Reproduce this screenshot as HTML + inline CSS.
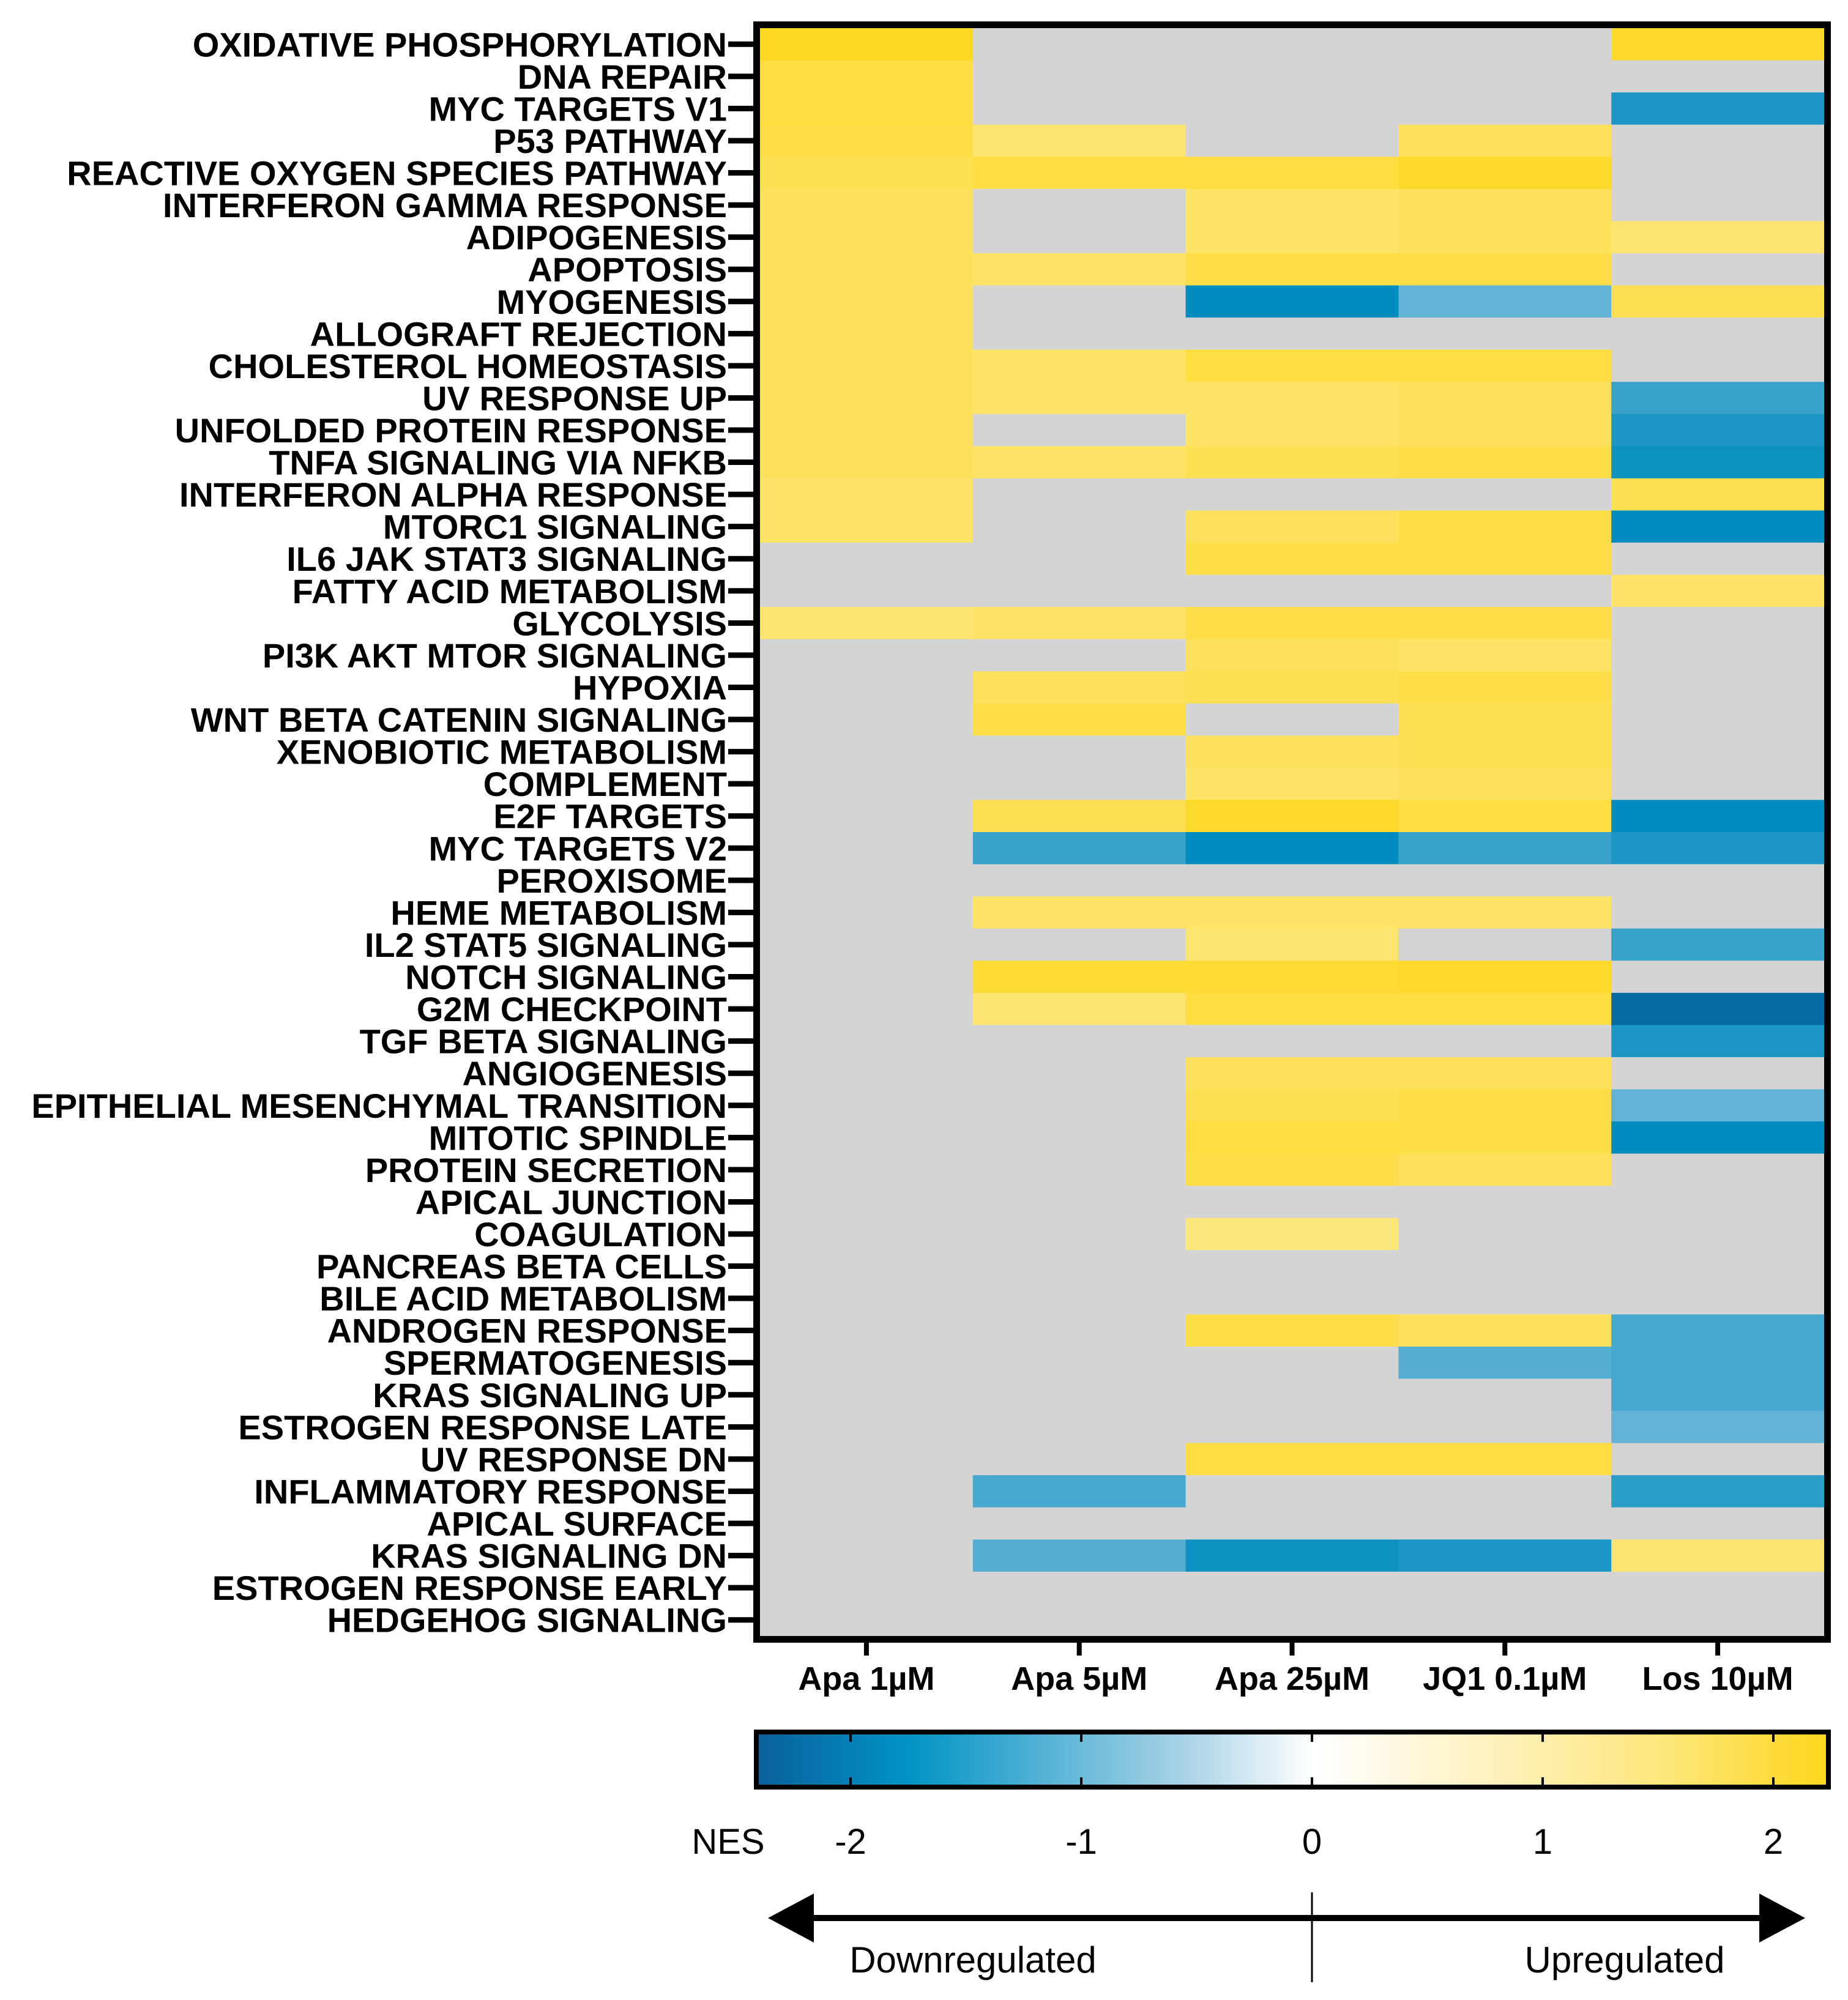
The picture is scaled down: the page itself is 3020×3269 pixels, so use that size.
<!DOCTYPE html>
<html><head><meta charset="utf-8"><style>
html,body{margin:0;padding:0;background:#fff;}
svg{display:block;font-family:"Liberation Sans",Arial,sans-serif;}
</style></head><body>
<svg id="chart" width="3020" height="3269" viewBox="0 0 3020 3269">
<defs>
<linearGradient id="cbgrad" x1="0" x2="1" y1="0" y2="0">
<stop offset="0" stop-color="#0a5f9c"/>
<stop offset="0.14" stop-color="#0093c4"/>
<stop offset="0.4" stop-color="#a9d3e6"/>
<stop offset="0.52" stop-color="#ffffff"/>
<stop offset="0.64" stop-color="#fff5d0"/>
<stop offset="0.85" stop-color="#fde67a"/>
<stop offset="1" stop-color="#fdd71c"/>
</linearGradient>
</defs>
<g id="cells"></g>
<g id="ylabels"></g>
<g id="xlabels"></g>
<rect x="1236.5" y="40.5" width="1750" height="2639" fill="none" stroke="#000" stroke-width="11"/>
<g>
<rect x="1236" y="2831" width="1752" height="90" fill="url(#cbgrad)" stroke="#000" stroke-width="8"/>
<g id="cbticks"></g>
<text x="1190" y="3030" font-size="58" text-anchor="middle">NES</text>
</g>
<g>
<line x1="1320" y1="3135" x2="2880" y2="3135" stroke="#000" stroke-width="10"/>
<polygon points="1255,3135 1330,3095 1330,3175" fill="#000"/>
<polygon points="2950,3135 2875,3095 2875,3175" fill="#000"/>
<line x1="2144" y1="3093" x2="2144" y2="3240" stroke="#000" stroke-width="3"/>
<text x="1590" y="3224" font-size="60" text-anchor="middle">Downregulated</text>
<text x="2655" y="3224" font-size="60" text-anchor="middle">Upregulated</text>
</g>
</svg>
<script>
const pathways = ["OXIDATIVE PHOSPHORYLATION","DNA REPAIR","MYC TARGETS V1","P53 PATHWAY","REACTIVE OXYGEN SPECIES PATHWAY","INTERFERON GAMMA RESPONSE","ADIPOGENESIS","APOPTOSIS","MYOGENESIS","ALLOGRAFT REJECTION","CHOLESTEROL HOMEOSTASIS","UV RESPONSE UP","UNFOLDED PROTEIN RESPONSE","TNFA SIGNALING VIA NFKB","INTERFERON ALPHA RESPONSE","MTORC1 SIGNALING","IL6 JAK STAT3 SIGNALING","FATTY ACID METABOLISM","GLYCOLYSIS","PI3K AKT MTOR SIGNALING","HYPOXIA","WNT BETA CATENIN SIGNALING","XENOBIOTIC METABOLISM","COMPLEMENT","E2F TARGETS","MYC TARGETS V2","PEROXISOME","HEME METABOLISM","IL2 STAT5 SIGNALING","NOTCH SIGNALING","G2M CHECKPOINT","TGF BETA SIGNALING","ANGIOGENESIS","EPITHELIAL MESENCHYMAL TRANSITION","MITOTIC SPINDLE","PROTEIN SECRETION","APICAL JUNCTION","COAGULATION","PANCREAS BETA CELLS","BILE ACID METABOLISM","ANDROGEN RESPONSE","SPERMATOGENESIS","KRAS SIGNALING UP","ESTROGEN RESPONSE LATE","UV RESPONSE DN","INFLAMMATORY RESPONSE","APICAL SURFACE","KRAS SIGNALING DN","ESTROGEN RESPONSE EARLY","HEDGEHOG SIGNALING"];
const conditions = ["Apa 1µM","Apa 5µM","Apa 25µM","JQ1 0.1µM","Los 10µM"];
const n = null;
const apa1 = [2.2,1.9,1.9,1.8,1.7,1.6,1.6,1.6,1.6,1.6,1.6,1.6,1.6,1.6,1.5,1.5,n,n,1.4,n,n,n,n,n,n,n,n,n,n,n,n,n,n,n,n,n,n,n,n,n,n,n,n,n,n,n,n,n,n,n];
const apa5 = [n,n,n,1.4,1.9,n,n,1.5,n,n,1.5,1.5,n,1.5,n,n,n,n,1.5,n,1.6,1.8,n,n,1.7,-1.6,n,1.5,n,2.0,1.4,n,n,n,n,n,n,n,n,n,n,n,n,n,n,-1.5,n,-1.4,n,n];
const apa25 = [n,n,n,n,1.9,1.5,1.5,1.8,-2.0,n,1.9,1.5,1.5,1.7,n,1.6,1.8,n,1.8,1.6,1.7,n,1.6,1.5,2.1,-2.0,n,1.5,1.4,2.0,1.9,n,1.6,1.7,1.9,1.8,n,1.3,n,n,1.8,n,n,n,1.9,n,n,-1.9,n,n];
const jq1 = [n,n,n,1.6,2.1,1.6,1.6,1.8,-1.3,n,1.9,1.6,1.6,1.8,n,1.8,1.8,n,1.8,1.5,1.8,1.7,1.7,1.6,1.9,-1.6,n,1.5,n,2.1,1.9,n,1.6,1.8,1.8,1.6,n,n,n,n,1.6,-1.4,n,n,1.9,n,n,-1.8,n,n];
const los10 = [2.1,n,-1.8,n,n,n,1.4,n,1.7,n,n,-1.6,-1.8,-1.9,1.7,-2.0,n,1.5,n,n,n,n,n,n,-2.0,-1.8,n,n,-1.6,n,-2.3,-1.8,n,-1.3,-2.0,n,n,n,n,n,-1.5,-1.5,-1.5,-1.3,n,-1.7,n,1.4,n,n];
const series = [apa1, apa5, apa25, jq1, los10];
const cbTicks = [-2,-1,0,1,2];

const NS = "http://www.w3.org/2000/svg";
const X0 = 1242, X1 = 2981, Y0 = 46, Y1 = 2674;
const colW = (X1 - X0) / conditions.length;
const rowH = (Y1 - Y0) / pathways.length;
const xCol = i => X0 + i * colW;
const yRow = i => Y0 + i * rowH;
const cbX = v => 2144 + v * 377;

const stops = [[-2.4,[10,95,156]],[-2.0,[0,140,190]],[-1.0,[140,196,223]],[0,[255,255,255]],[0.5,[255,245,208]],[1.3,[253,230,122]],[2.25,[253,215,28]]];
function colorFor(v){
  if (v === null) return "#d4d4d4";
  if (v <= stops[0][0]) return "rgb("+stops[0][1].join(",")+")";
  for (let i=1;i<stops.length;i++){
    if (v <= stops[i][0]){
      const a=stops[i-1], b=stops[i], t=(v-a[0])/(b[0]-a[0]);
      const c=a[1].map((x,k)=>Math.round(x+(b[1][k]-x)*t));
      return "rgb("+c.join(",")+")";
    }
  }
  return "rgb("+stops[stops.length-1][1].join(",")+")";
}
function mk(tag, attrs){const e=document.createElementNS(NS,tag);for(const k in attrs)e.setAttribute(k,attrs[k]);return e;}

const cells = document.getElementById("cells");
series.forEach((vals, c) => {
  vals.forEach((v, r) => {
    const el = mk("rect", {x:xCol(c), y:yRow(r), width:colW+0.6, height:rowH+0.6, fill:colorFor(v)});
    
    
    cells.appendChild(el);
  });
});

const yl = document.getElementById("ylabels");
pathways.forEach((p, r) => {
  const cy = yRow(r) + rowH/2;
  const t = mk("text", {x:1188, y:cy+20, "font-size":56, "font-weight":"bold", "text-anchor":"end"});
  t.textContent = p;
  
  
  yl.appendChild(t);
  const tk = mk("line", {x1:1190, x2:1234, y1:cy, y2:cy, stroke:"#000", "stroke-width":9});
  
  
  yl.appendChild(tk);
});

const xl = document.getElementById("xlabels");
conditions.forEach((c, i) => {
  const cx = xCol(i) + colW/2;
  const tk = mk("line", {x1:cx, x2:cx, y1:2680, y2:2706, stroke:"#000", "stroke-width":8});
  
  
  xl.appendChild(tk);
  const t = mk("text", {x:cx, y:2762, "font-size":54, "font-weight":"bold", "text-anchor":"middle"});
  t.textContent = c;
  
  
  xl.appendChild(t);
});

const cbt = document.getElementById("cbticks");
cbTicks.forEach(v => {
  const x = cbX(v);
  [[2835,2847],[2905,2917]].forEach(([a,b]) => {
    const l = mk("line", {x1:x, x2:x, y1:a, y2:b, stroke:"#000", "stroke-width":4});
    
    
    cbt.appendChild(l);
  });
  const t = mk("text", {x:x, y:3030, "font-size":58, "text-anchor":"middle"});
  t.textContent = v;
  
  
  cbt.appendChild(t);
});
</script>
</body></html>
